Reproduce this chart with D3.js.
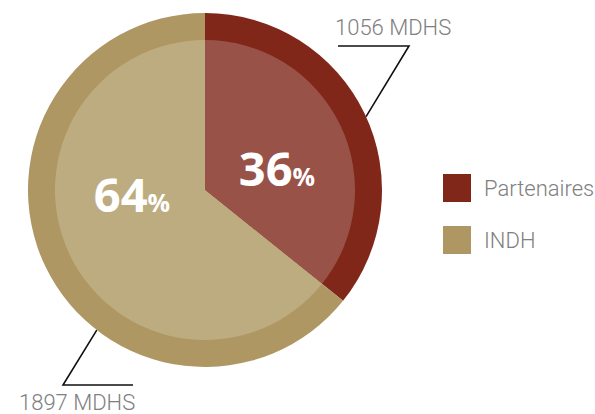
<!DOCTYPE html>
<html>
<head>
<meta charset="utf-8">
<script src="https://cdn.jsdelivr.net/npm/d3@7"></script>
<style>
  html, body { margin: 0; padding: 0; background: #fff; }
  svg { display: block; }
</style>
</head>
<body>
<svg id="chart"></svg>
<script>
// data
var categories = ["Partenaires", "INDH"];
var amounts = [1056, 1897];
var amountLabels = ["1056 MDHS", "1897 MDHS"];
var colors = ["#80271a", "#ae9762"];

var W = 595, H = 414;
var PIE = { cx: 205, cy: 190, outer: 177, inner: 150 };

// label placement, relative to the pie center
var PCT_POS = [{ x: 72, y: -4 }, { x: -73, y: 22 }];
var LEADERS = [
  { angle: 65.5, elbow: [204, -144], end: [133, -144], text: [130, -155] },
  { angle: 217.7, elbow: [-142, 195], end: [-72, 195], text: [-186, 220] }
];

var svg = d3.select("#chart").attr("width", W).attr("height", H);

var total = d3.sum(amounts);
var pie = d3.pie().sort(null)(amounts);

var g = svg.append("g").attr("transform", "translate(" + PIE.cx + "," + PIE.cy + ")");

var outerArc = d3.arc().innerRadius(0).outerRadius(PIE.outer);
var innerArc = d3.arc().innerRadius(0).outerRadius(PIE.inner);

g.selectAll(".slice")
  .data(pie)
  .enter().append("path")
  .attr("class", "slice")
  .attr("d", outerArc)
  .attr("fill", function(d, i) { return colors[i]; });

// lighter inner disc (white wash)
g.selectAll(".inner")
  .data(pie)
  .enter().append("path")
  .attr("class", "inner")
  .attr("d", innerArc)
  .attr("fill", function(d, i) { return d3.interpolateRgb(colors[i], "#fff")(0.2); });

// percentages
var pct = g.selectAll(".pct")
  .data(pie)
  .enter().append("text")
  .attr("class", "pct")
  .attr("x", function(d, i) { return PCT_POS[i].x; })
  .attr("y", function(d, i) { return PCT_POS[i].y; })
  .attr("text-anchor", "middle")
  .attr("fill", "#fff")
  .attr("font-family", "'Open Sans', sans-serif")
  .attr("font-weight", 700);

pct.append("tspan")
  .attr("font-size", "47px")
  .text(function(d) { return Math.round(d.value / total * 100); });
pct.append("tspan")
  .attr("font-size", "25px")
  .text("%");

// leader lines
LEADERS.forEach(function(l, i) {
  var a = l.angle * Math.PI / 180;
  var start = [PIE.outer * Math.sin(a), -PIE.outer * Math.cos(a)];
  g.append("path")
    .attr("d", d3.line()([start, l.elbow, l.end]))
    .attr("fill", "none")
    .attr("stroke", "#111")
    .attr("stroke-width", 1.6);
  g.append("text")
    .attr("x", l.text[0])
    .attr("y", l.text[1])
    .attr("fill", "#808080")
    .attr("font-family", "Roboto, 'Liberation Sans', sans-serif")
    .attr("font-weight", 300)
    .attr("font-size", "22px")
    .text(amountLabels[i]);
});

// legend
var legend = svg.append("g").attr("transform", "translate(443,174)");
var item = legend.selectAll(".item")
  .data(categories)
  .enter().append("g")
  .attr("class", "item")
  .attr("transform", function(d, i) { return "translate(0," + i * 52 + ")"; });

item.append("rect")
  .attr("width", 28)
  .attr("height", 28)
  .attr("fill", function(d, i) { return colors[i]; });

item.append("text")
  .attr("x", 41)
  .attr("y", 22)
  .attr("fill", "#808080")
  .attr("font-family", "Roboto, 'Liberation Sans', sans-serif")
  .attr("font-weight", 300)
  .attr("font-size", "22px")
  .text(function(d) { return d; });
</script>
</body>
</html>
